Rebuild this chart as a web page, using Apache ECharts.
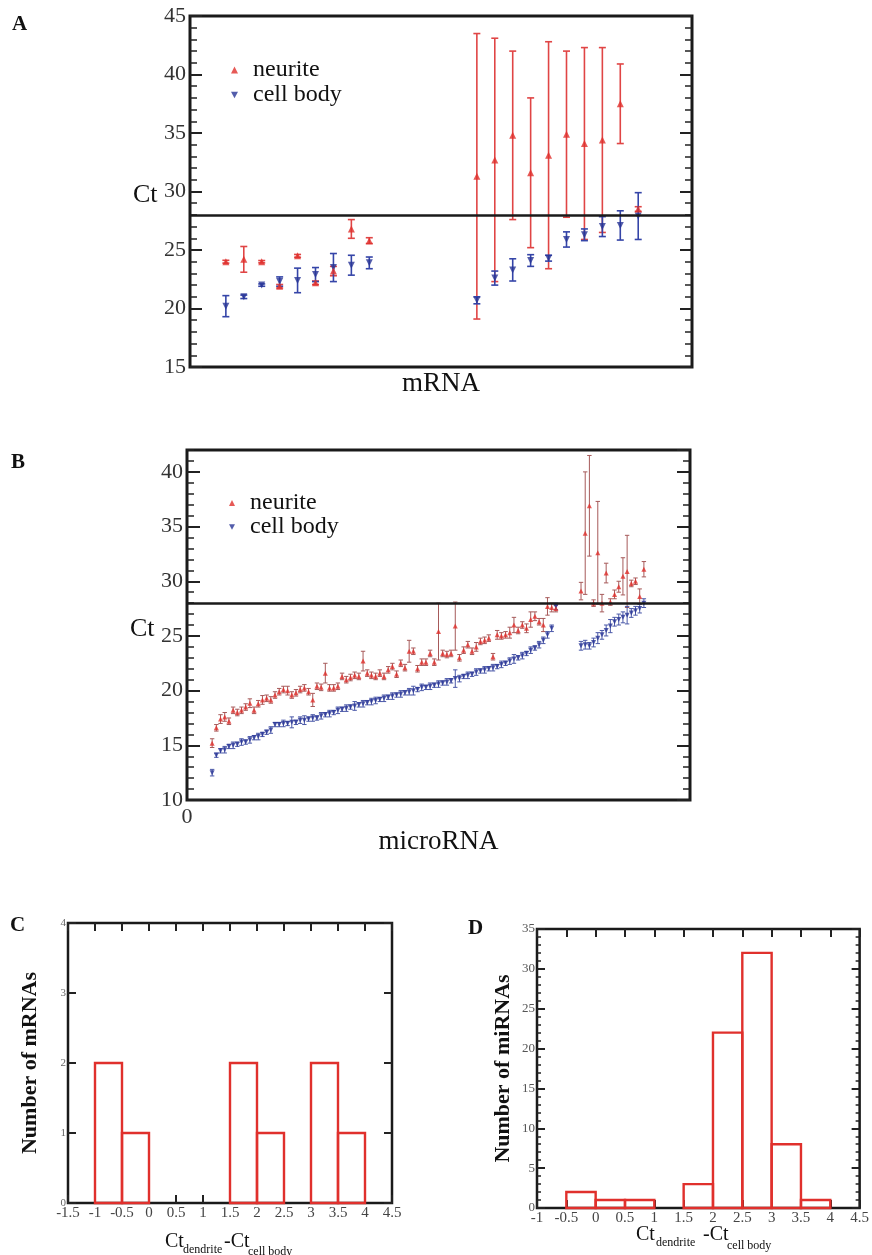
<!DOCTYPE html>
<html><head><meta charset="utf-8">
<script src="https://cdn.jsdelivr.net/npm/echarts@6/dist/echarts.min.js"></script>
<style>html,body{margin:0;padding:0;background:#fff}#c{width:872px;height:1255px}</style>
</head><body><div id="c"></div>
<script>
// ---------- Panel A : mRNA ----------
const mrnaX = [2,3,4,5,6,7,8,9,10,16,17,18,19,20,21,22,23,24,25];
const mrnaNeurite = [24.0,24.2,24.0,21.9,24.5,22.2,23.2,26.8,25.8,31.3,32.7,34.8,31.6,33.1,34.9,34.1,34.4,37.5,28.5];
const mrnaNeuriteErr = [0.12,1.1,0.1,0.15,0.12,0.15,0.4,0.8,0.25,12.2,10.4,7.2,6.4,9.7,7.1,8.2,7.9,3.4,0.2];
const mrnaCell = [20.2,21.0,22.0,22.3,22.4,22.9,23.5,23.7,23.9,20.7,22.6,23.3,24.1,24.3,25.9,26.3,27.0,27.1,27.9];
const mrnaCellErr = [0.9,0.15,0.1,0.4,1.05,0.6,1.2,0.85,0.5,0.3,0.6,0.95,0.5,0.25,0.65,0.5,0.85,1.25,2.0];

// ---------- Panel B : microRNA ----------
const mirnaGroups = [[6, 83], [94, 16]]; // [first index, count]
const mirnaNeurite = [
 15.2,16.6,17.4,17.6,17.2,18.2,18.0,18.2,18.5,18.85,
 18.2,18.8,19.15,19.3,19.15,19.6,19.9,20.1,20.0,19.6,
 19.8,20.1,20.25,19.9,19.15,20.4,20.3,21.6,20.25,20.25,
 20.4,21.3,21.0,21.2,21.4,21.3,22.7,21.6,21.4,21.3,
 21.6,21.3,21.9,22.2,21.5,22.5,22.1,23.6,23.6,22.0,
 22.6,22.6,23.4,22.6,25.4,23.4,23.3,23.4,25.9,23.0,
 23.7,24.2,23.6,24.0,24.5,24.6,24.8,23.1,25.1,25.0,
 25.1,25.3,26.0,25.5,26.0,25.7,26.5,26.8,26.3,26.0,
 27.7,27.6,27.5,
 29.1,34.4,36.9,28.0,32.6,28.0,30.75,28.1,28.8,29.5,30.45,30.9,29.8,30.0,28.6,31.1];
const mirnaNeuriteErr = [
 0.4,0.3,0.4,0.4,0.3,0.3,0.3,0.3,0.3,0.4,
 0.3,0.3,0.4,0.3,0.3,0.3,0.3,0.3,0.4,0.3,
 0.3,0.3,0.3,0.3,0.6,0.3,0.3,0.9,0.3,0.3,
 0.3,0.3,0.3,0.3,0.3,0.3,0.9,0.3,0.3,0.3,
 0.3,0.3,0.3,0.3,0.3,0.3,0.3,1.0,0.3,0.3,
 0.3,0.3,0.3,0.3,2.6,0.3,0.3,0.3,2.2,0.3,
 0.3,0.3,0.3,0.4,0.3,0.3,0.3,0.3,0.4,0.3,
 0.3,0.5,0.7,0.3,0.3,0.4,0.7,0.4,0.3,0.6,
 0.8,0.4,0.3,
 0.8,5.6,4.6,0.3,4.7,0.8,0.9,0.3,0.4,0.5,1.7,3.3,0.3,0.3,0.7,0.7];
const mirnaCell = [
 12.5,14.1,14.5,14.6,14.9,15.0,15.1,15.3,15.3,15.5,
 15.7,15.8,16.0,16.2,16.4,16.9,16.9,17.0,17.0,17.1,
 17.1,17.3,17.3,17.4,17.5,17.5,17.7,17.8,17.9,18.0,
 18.2,18.3,18.4,18.5,18.6,18.7,18.8,18.9,19.0,19.1,
 19.2,19.3,19.4,19.5,19.6,19.7,19.8,19.9,20.0,20.1,
 20.3,20.3,20.4,20.5,20.6,20.7,20.8,20.9,21.1,21.1,
 21.3,21.4,21.5,21.7,21.8,21.9,22.0,22.1,22.2,22.4,
 22.5,22.7,22.9,23.0,23.2,23.4,23.7,23.9,24.2,24.6,
 25.1,25.7,27.7,
 24.1,24.2,24.1,24.4,24.8,25.1,25.5,25.9,26.3,26.5,26.7,26.9,27.1,27.3,27.5,28.0];
const mirnaCellErr = [
 0.3,0.2,0.2,0.3,0.2,0.3,0.2,0.3,0.2,0.3,
 0.2,0.3,0.2,0.2,0.3,0.2,0.2,0.3,0.2,0.5,
 0.2,0.3,0.4,0.2,0.3,0.2,0.3,0.2,0.3,0.2,
 0.3,0.2,0.3,0.2,0.4,0.2,0.3,0.2,0.3,0.3,
 0.2,0.3,0.2,0.3,0.2,0.3,0.2,0.3,0.4,0.2,
 0.3,0.2,0.3,0.2,0.3,0.2,0.3,0.2,0.8,0.3,
 0.2,0.3,0.2,0.3,0.2,0.3,0.2,0.3,0.2,0.3,
 0.2,0.3,0.4,0.2,0.3,0.2,0.3,0.2,0.3,0.3,
 0.3,0.3,0.3,
 0.4,0.4,0.3,0.4,0.5,0.4,0.5,0.6,0.4,0.5,0.5,0.8,0.4,0.4,0.4,0.4];
const threshold = 28;

// ---------- Panel C / D : histograms ----------
const binWidth = 0.5;
const cBinStart = [-1, -0.5, 1.5, 2, 3, 3.5];
const cCounts   = [2, 1, 2, 1, 2, 1];
const dBinStart = [-0.5, 0, 0.5, 1.5, 2, 2.5, 3, 3.5];
const dCounts   = [2, 1, 1, 3, 22, 32, 8, 1];

// ---------- build ----------
const mirnaX = [];
mirnaGroups.forEach(([s, n]) => { for (let i = 0; i < n; i++) mirnaX.push(s + i); });

const RED = '#e0302c', BLUE = '#283596';
const SERIF = '"Liberation Serif","DejaVu Serif",serif';

function errBars(cap, color, lw) {
  return function (params, api) {
    const x = api.value(0), lo = api.value(1), hi = api.value(2);
    const a = api.coord([x, hi]), b = api.coord([x, lo]);
    const st = {stroke: color, lineWidth: lw};
    return {type: 'group', children: [
      {type: 'line', shape: {x1: a[0], y1: a[1], x2: b[0], y2: b[1]}, style: st},
      {type: 'line', shape: {x1: a[0] - cap, y1: a[1], x2: a[0] + cap, y2: a[1]}, style: st},
      {type: 'line', shape: {x1: b[0] - cap, y1: b[1], x2: b[0] + cap, y2: b[1]}, style: st}
    ]};
  };
}
function histRect(color) {
  return function (params, api) {
    const x0 = api.value(0), x1 = api.value(1), n = api.value(2);
    const p0 = api.coord([x0, n]), p1 = api.coord([x1, 0]);
    return {type: 'rect', shape: {x: p0[0], y: p0[1], width: p1[0] - p0[0], height: p1[1] - p0[1]},
      style: {fill: 'none', stroke: color, lineWidth: 2.4}};
  };
}
const errData = (xs, v, e) => xs.map((x, i) => [x, v[i] - e[i], v[i] + e[i]]);
const ptData = (xs, v) => xs.map((x, i) => [x, v[i]]);
const histData = (starts, counts) => starts.map((s, i) => [s, s + binWidth, counts[i]]);

const tickStyle = (len, w) => ({show: true, inside: true, length: len, lineStyle: {color: '#222', width: w}});
const noLine = {show: false, onZero: false};
const hidden = {show: false};

function yPair(grid, min, max, interval, major, minorLen, labelSize, extra) {
  const base = {gridIndex: grid, type: 'value', min: min, max: max, interval: interval,
    axisLine: noLine, splitLine: hidden};
  const left = Object.assign({}, base, {position: 'left', axisTick: tickStyle(major, 2),
    axisLabel: {show: true, fontFamily: SERIF, fontSize: labelSize, color: '#333', margin: 4, showMaxLabel: max % interval === 0}},
    extra || {});
  const right = Object.assign({}, base, {position: 'right', axisTick: tickStyle(major, 2), axisLabel: hidden});
  if (minorLen) {
    left.minorTick = {show: true, splitNumber: 5, length: minorLen, lineStyle: {color: '#222', width: 1.5}};
    right.minorTick = {show: true, splitNumber: 5, length: minorLen, lineStyle: {color: '#222', width: 1.5}};
  }
  return [left, right];
}

const yAxes = [];
// A: 0,1
yAxes.push(...yPair(0, 15, 45, 5, 12, 7, 22));
// B: 2,3 (major) 4,5 (minor via interval 1)
yAxes.push(...yPair(1, 10, 42, 5, 13, 0, 22));
yAxes.push({gridIndex: 1, type: 'value', min: 10, max: 42, interval: 1, position: 'left', axisLine: noLine,
  splitLine: hidden, axisLabel: hidden, axisTick: tickStyle(7, 1.5)});
yAxes.push({gridIndex: 1, type: 'value', min: 10, max: 42, interval: 1, position: 'right', axisLine: noLine,
  splitLine: hidden, axisLabel: hidden, axisTick: tickStyle(7, 1.5)});
// C: 6,7
const cY = yPair(2, 0, 4, 1, 8, 0, 11, {name: 'Number of mRNAs', nameLocation: 'middle', nameRotate: 90, nameGap: 27,
  nameTextStyle: {fontFamily: SERIF, fontWeight: 'bold', fontSize: 22, color: '#111'}});
cY[0].axisLabel.color = '#666'; cY[0].axisLabel.margin = 2;
yAxes.push(...cY);
// D: 8,9
const dY = yPair(3, 0, 35, 5, 8, 4, 13, {name: 'Number of miRNAs', nameLocation: 'middle', nameRotate: 90, nameGap: 23,
  nameTextStyle: {fontFamily: SERIF, fontWeight: 'bold', fontSize: 22, color: '#111'}});
dY[0].axisLabel.color = '#555'; dY[0].axisLabel.margin = 2;
yAxes.push(...dY);

const xAxes = [
  {gridIndex: 0, type: 'value', min: 0, max: 28, axisLine: noLine, axisTick: hidden, axisLabel: hidden, splitLine: hidden,
    name: 'mRNA', nameLocation: 'middle', nameGap: 3, nameTextStyle: {fontFamily: SERIF, fontSize: 27, color: '#111'}},
  {gridIndex: 1, type: 'value', min: 0, max: 120, interval: 120, axisLine: noLine, axisTick: hidden, splitLine: hidden,
    axisLabel: {fontFamily: SERIF, fontSize: 22, color: '#333', margin: 6, formatter: v => v === 0 ? '0' : ''},
    name: 'microRNA', nameLocation: 'middle', nameGap: 22, nameTextStyle: {fontFamily: SERIF, fontSize: 27, color: '#111'}},
  {gridIndex: 2, type: 'value', min: -1.5, max: 4.5, interval: 0.5, position: 'bottom', axisLine: noLine, splitLine: hidden,
    axisTick: tickStyle(8, 2), axisLabel: {fontFamily: SERIF, fontSize: 15, color: '#444', margin: 3}},
  {gridIndex: 2, type: 'value', min: -1.5, max: 4.5, interval: 0.5, position: 'top', axisLine: noLine, splitLine: hidden,
    axisTick: tickStyle(8, 2), axisLabel: hidden},
  {gridIndex: 3, type: 'value', min: -1, max: 4.5, interval: 0.5, position: 'bottom', axisLine: noLine, splitLine: hidden,
    axisTick: tickStyle(8, 2), axisLabel: {fontFamily: SERIF, fontSize: 15, color: '#444', margin: 3}},
  {gridIndex: 3, type: 'value', min: -1, max: 4.5, interval: 0.5, position: 'top', axisLine: noLine, splitLine: hidden,
    axisTick: tickStyle(8, 2), axisLabel: hidden}
];

const thresholdLine = {silent: true, symbol: ['none', 'none'], label: {show: false},
  lineStyle: {color: '#1a1a1a', width: 2.5, type: 'solid'}, data: [{yAxis: threshold}]};

const series = [
  // A
  {type: 'custom', name: 'nA err', xAxisIndex: 0, yAxisIndex: 0, renderItem: errBars(3.5, '#e04545', 1.6),
    data: errData(mrnaX, mrnaNeurite, mrnaNeuriteErr), z: 2},
  {type: 'custom', name: 'cA err', xAxisIndex: 0, yAxisIndex: 0, renderItem: errBars(3.5, '#3545a8', 1.6),
    data: errData(mrnaX, mrnaCell, mrnaCellErr), z: 2},
  {type: 'scatter', name: 'neurite', xAxisIndex: 0, yAxisIndex: 0, symbol: 'triangle', symbolSize: 7,
    itemStyle: {color: RED}, data: ptData(mrnaX, mrnaNeurite), z: 4, markLine: thresholdLine},
  {type: 'scatter', name: 'cell body', xAxisIndex: 0, yAxisIndex: 0, symbol: 'triangle', symbolRotate: 180, symbolSize: 7,
    itemStyle: {color: BLUE}, data: ptData(mrnaX, mrnaCell), z: 3},
  // B
  {type: 'custom', name: 'nB err', xAxisIndex: 1, yAxisIndex: 2, renderItem: errBars(2.2, '#a65a5a', 1),
    data: errData(mirnaX, mirnaNeurite, mirnaNeuriteErr), z: 2},
  {type: 'custom', name: 'cB err', xAxisIndex: 1, yAxisIndex: 2, renderItem: errBars(2.2, '#4a58a8', 1),
    data: errData(mirnaX, mirnaCell, mirnaCellErr), z: 2},
  {type: 'scatter', name: 'neurite', xAxisIndex: 1, yAxisIndex: 2, symbol: 'triangle', symbolSize: 5,
    itemStyle: {color: RED}, data: ptData(mirnaX, mirnaNeurite), z: 4, markLine: thresholdLine},
  {type: 'scatter', name: 'cell body', xAxisIndex: 1, yAxisIndex: 2, symbol: 'triangle', symbolRotate: 180, symbolSize: 5,
    itemStyle: {color: BLUE}, data: ptData(mirnaX, mirnaCell), z: 3},
  // C
  {type: 'custom', name: 'histC', xAxisIndex: 2, yAxisIndex: 6, renderItem: histRect(RED), data: histData(cBinStart, cCounts), z: 3},
  // D
  {type: 'custom', name: 'histD', xAxisIndex: 4, yAxisIndex: 8, renderItem: histRect(RED), data: histData(dBinStart, dCounts), z: 3}
];

const legendText = {fontFamily: SERIF, fontSize: 24, color: '#111', lineHeight: 21, padding: [0, 0, 0, 10]};
const legendData = [{name: 'neurite', icon: 'triangle'}, {name: 'cell body', icon: 'path://M0,0L10,0L5,9Z'}];
const legends = [
  {left: 226, top: 53, orient: 'vertical', itemWidth: 7, itemHeight: 7, itemGap: 1, selectedMode: false,
    data: legendData, textStyle: legendText},
  {left: 224, top: 486, orient: 'vertical', itemWidth: 6, itemHeight: 6, itemGap: 0, selectedMode: false,
    data: legendData, textStyle: legendText}
];

const T = (txt, x, y, size, opts) => Object.assign({type: 'text', x: x, y: y,
  style: {text: txt, fontFamily: SERIF, fontSize: size, fill: '#111', textVerticalAlign: 'middle'}}, opts || {});
const B = (txt, x, y) => ({type: 'text', x: x, y: y,
  style: {text: txt, fontFamily: SERIF, fontWeight: 'bold', fontSize: 21, fill: '#111', textVerticalAlign: 'top'}});

const graphics = [
  B('A', 12, 14), B('B', 11, 452), B('C', 10, 915), B('D', 468, 918),
  T('Ct', 133, 195, 26), T('Ct', 130, 629, 26),
  // C x-axis title
  T('Ct', 165, 1242, 20), T('dendrite', 183, 1250, 12), T('-Ct', 224, 1242, 20), T('cell body', 248, 1252, 12),
  // D x-axis title
  T('Ct', 636, 1235, 20), T('dendrite', 656, 1243, 12), T('-Ct', 703, 1235, 20), T('cell body', 727, 1246, 12)
];

const option = {
  animation: false,
  backgroundColor: '#fff',
  grid: [
    {left: 190, top: 16, width: 502, height: 351, show: true, borderColor: '#1a1a1a', borderWidth: 3, backgroundColor: 'transparent'},
    {left: 187, top: 450, width: 503, height: 350, show: true, borderColor: '#1a1a1a', borderWidth: 3, backgroundColor: 'transparent'},
    {left: 68, top: 923, width: 324, height: 280, show: true, borderColor: '#1a1a1a', borderWidth: 2.5, backgroundColor: 'transparent'},
    {left: 537, top: 929, width: 324, height: 279, show: true, borderColor: '#1a1a1a', borderWidth: 2.5, backgroundColor: 'transparent'}
  ],
  legend: legends,
  xAxis: xAxes,
  yAxis: yAxes,
  series: series,
  graphic: graphics
};

const chart = echarts.init(document.getElementById('c'), null, {renderer: 'canvas'});
chart.setOption(option);
</script>
</body></html>
